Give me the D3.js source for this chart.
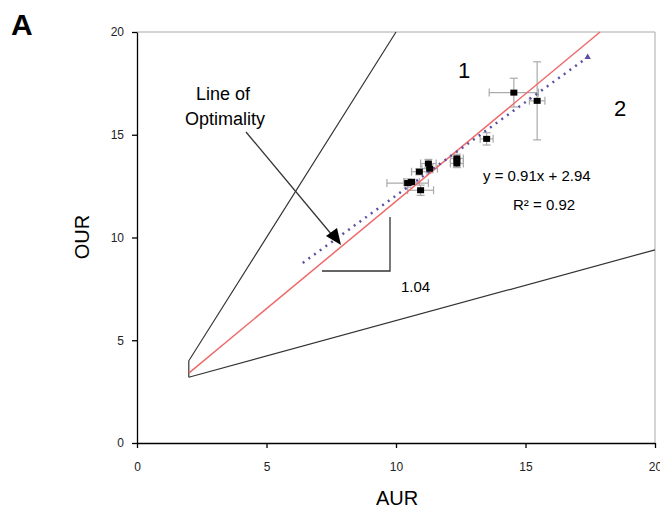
<!DOCTYPE html>
<meta charset="utf-8">
<style>
body { margin: 0; background: #fff; }
text { font-family: "Liberation Sans", Arial, sans-serif; }
.tick text { font-size: 12px; fill: #222; }
</style>
<body>
<script src="https://cdn.jsdelivr.net/npm/d3@7"></script>
<script>
// measured points (AUR, OUR) with error half-widths
var aur    = [10.45, 10.6, 10.95, 10.9, 11.25, 11.3, 12.35, 12.35, 13.5, 14.55, 15.45];
var our    = [12.65, 12.7, 12.3, 13.2, 13.6, 13.35, 13.85, 13.6, 14.8, 17.05, 16.65];
var aurErr = [0.8, 0.3, 0.5, 0.3, 0.3, 0.3, 0.25, 0.25, 0.25, 0.95, 0.3];
var ourErr = [0.2, 0.15, 0.25, 0.15, 0.2, 0.2, 0.2, 0.2, 0.3, 0.7, 1.9];

// boundary lines (regions 1 and 2) and the line of optimality
var bound1 = [[2, 3.2], [2, 4], [10, 20]];
var bound2 = [[2, 3.2], [20, 9.4]];
var optimal = [[2, 3.4], [17.88, 20]];
var fitLine = [[6.4, 0.91 * 6.4 + 2.94], [17.4, 0.91 * 17.4 + 2.94]];

var xTicks = [0, 5, 10, 15, 20];
var yTicks = [0, 5, 10, 15, 20];

var width = 660, height = 514;

var x = d3.scaleLinear().domain([0, 20]).range([137, 655]);
var y = d3.scaleLinear().domain([0, 20]).range([443, 32]);

var svg = d3.select("body").append("svg")
    .attr("width", width)
    .attr("height", height);

// frame top/right
svg.append("path")
    .attr("d", "M" + x(0) + "," + y(20) + "H" + x(20) + "V" + y(0))
    .attr("fill", "none")
    .attr("stroke", "#aaa");

var line = d3.line().x(function(d) { return x(d[0]); }).y(function(d) { return y(d[1]); });

svg.append("path").attr("d", line(bound1)).attr("fill", "none").attr("stroke", "#333").attr("stroke-width", 1.2);
svg.append("path").attr("d", line(bound2)).attr("fill", "none").attr("stroke", "#333").attr("stroke-width", 1.2);

// error bars
var pts = aur.map(function(d, i) {
  return {x: d, y: our[i], xe: aurErr[i], ye: ourErr[i]};
});
var eb = svg.append("g").attr("stroke", "#aaa").attr("stroke-width", 1.2);
pts.forEach(function(p) {
  eb.append("line").attr("x1", x(p.x - p.xe)).attr("x2", x(p.x + p.xe)).attr("y1", y(p.y)).attr("y2", y(p.y));
  eb.append("line").attr("x1", x(p.x)).attr("x2", x(p.x)).attr("y1", y(p.y - p.ye)).attr("y2", y(p.y + p.ye));
  [p.x - p.xe, p.x + p.xe].forEach(function(v) {
    eb.append("line").attr("x1", x(v)).attr("x2", x(v)).attr("y1", y(p.y) - 4).attr("y2", y(p.y) + 4);
  });
  [p.y - p.ye, p.y + p.ye].forEach(function(v) {
    eb.append("line").attr("x1", x(p.x) - 4).attr("x2", x(p.x) + 4).attr("y1", y(v)).attr("y2", y(v));
  });
});

// line of optimality
svg.append("path").attr("d", line(optimal)).attr("fill", "none").attr("stroke", "#ee6a6a").attr("stroke-width", 1.5);

// fitted trend
svg.append("path").attr("d", line(fitLine)).attr("fill", "none")
    .attr("stroke", "#5b4fa6").attr("stroke-width", 2.5).attr("stroke-dasharray", "2,5");
svg.append("path")
    .attr("d", d3.symbol().type(d3.symbolTriangle).size(18))
    .attr("transform", "translate(" + x(fitLine[1][0]) + "," + y(fitLine[1][1]) + ")")
    .attr("fill", "#5b4fa6");

// points
svg.selectAll(".pt").data(pts).enter().append("rect")
    .attr("class", "pt")
    .attr("x", function(d) { return x(d.x) - 3.5; })
    .attr("y", function(d) { return y(d.y) - 3; })
    .attr("width", 7).attr("height", 6)
    .attr("fill", "#000");

// axes
svg.append("g")
    .attr("transform", "translate(0," + y(0) + ")")
    .call(d3.axisBottom(x).tickValues(xTicks).tickSize(5).tickPadding(14).tickSizeOuter(0))
    .call(function(g) { g.selectAll("line,path").attr("stroke", "#000").attr("stroke-width", 1.3); });
svg.append("g")
    .attr("transform", "translate(" + x(0) + ",0)")
    .call(d3.axisLeft(y).tickValues(yTicks).tickSize(5).tickPadding(8).tickSizeOuter(0))
    .call(function(g) { g.selectAll("line,path").attr("stroke", "#000").attr("stroke-width", 1.3); });

svg.append("text").attr("x", 397).attr("y", 505).attr("text-anchor", "middle")
    .attr("font-size", 20).text("AUR");
svg.append("text").attr("transform", "translate(89,237) rotate(-90)").attr("text-anchor", "middle")
    .attr("font-size", 20).text("OUR");

svg.append("text").attr("x", 11).attr("y", 35).attr("font-size", 30).attr("font-weight", "bold").text("A");

// annotations
svg.append("text").attr("x", 223).attr("y", 100).attr("text-anchor", "middle").attr("font-size", 18).text("Line of");
svg.append("text").attr("x", 225).attr("y", 125).attr("text-anchor", "middle").attr("font-size", 18).text("Optimality");

svg.append("line").attr("x1", 246).attr("y1", 132).attr("x2", 332).attr("y2", 235)
    .attr("stroke", "#333").attr("stroke-width", 1.3);
svg.append("path").attr("d", "M341,245 L326,236 L337,228 Z").attr("fill", "#000");

svg.append("path").attr("d", "M322,271 H390 V217").attr("fill", "none").attr("stroke", "#333").attr("stroke-width", 1.3);
svg.append("text").attr("x", 401).attr("y", 292).attr("font-size", 15).text("1.04");

svg.append("text").attr("x", 458).attr("y", 78).attr("font-size", 22).text("1");
svg.append("text").attr("x", 614).attr("y", 116).attr("font-size", 22).text("2");

svg.append("text").attr("x", 483).attr("y", 181).attr("font-size", 15).text("y = 0.91x + 2.94");
svg.append("text").attr("x", 513).attr("y", 210).attr("font-size", 15).text("R\u00b2 = 0.92");
</script>
</body>
